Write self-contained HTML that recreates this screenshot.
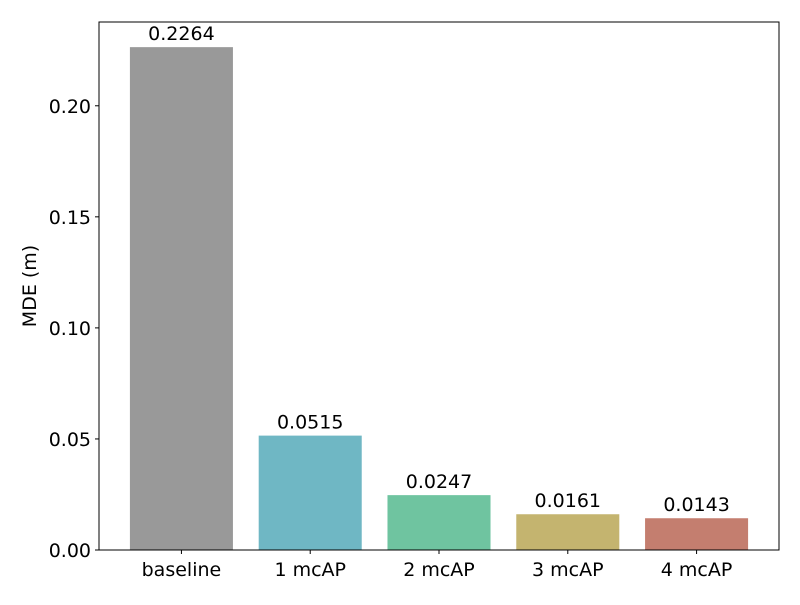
<!DOCTYPE html>
<html><head><meta charset="utf-8"><style>
body{margin:0;background:#fff;}
svg text{font-family:"DejaVu Sans","Liberation Sans",sans-serif;font-size:19px;fill:#000;}
</style></head><body>
<svg id="chart" width="800" height="600" xmlns="http://www.w3.org/2000/svg"></svg>
<script>
const categories = ["baseline","1 mcAP","2 mcAP","3 mcAP","4 mcAP"];
const values = [0.2264,0.0515,0.0247,0.0161,0.0143];
const valueLabels = ["0.2264","0.0515","0.0247","0.0161","0.0143"];
const colors = ["#999999","#6fb7c4","#6fc4a0","#c4b46f","#c47e6f"];
const yTicks = [0,0.05,0.10,0.15,0.20];
const yTickLabels = ["0.00","0.05","0.10","0.15","0.20"];

const L=99,R=779,T=22,B=550;
const yMax = Math.max(...values)*1.05;
const xMin=-0.64, xMax=categories.length-1+0.64;
const xs = v => L+(v-xMin)/(xMax-xMin)*(R-L);
const ys = v => B-(v/yMax)*(B-T);
const NS="http://www.w3.org/2000/svg";
const svg=document.getElementById('chart');
function mk(tag,attrs,txt){const e=document.createElementNS(NS,tag);for(const k in attrs)e.setAttribute(k,attrs[k]);if(txt!==undefined)e.textContent=txt;svg.appendChild(e);return e;}

values.forEach((v,i)=>{
  const x0=xs(i-0.4),x1=xs(i+0.4);
  const r=mk('rect',{x:x0,y:ys(v),width:x1-x0,height:B-ys(v),fill:colors[i]});
  
  
  const t=mk('text',{x:xs(i),y:ys(v)-7,'text-anchor':'middle'},valueLabels[i]);
  
  
  mk('line',{x1:xs(i),x2:xs(i),y1:B,y2:B+4,stroke:'#000'});
  const xl=mk('text',{x:xs(i),y:B+26,'text-anchor':'middle'},categories[i]);
  
  
});
yTicks.forEach((v,i)=>{
  mk('line',{x1:L-4,x2:L,y1:ys(v),y2:ys(v),stroke:'#000'});
  const yl=mk('text',{x:L-8,y:ys(v)+7,'text-anchor':'end'},yTickLabels[i]);
  
  
});
const fr=mk('rect',{x:L,y:T,width:R-L,height:B-T,fill:'none',stroke:'#000','stroke-width':1});


const yt=mk('text',{x:36,y:(T+B)/2,'text-anchor':'middle',transform:`rotate(-90 36 ${(T+B)/2})`},'MDE (m)');


</script>
</body></html>
